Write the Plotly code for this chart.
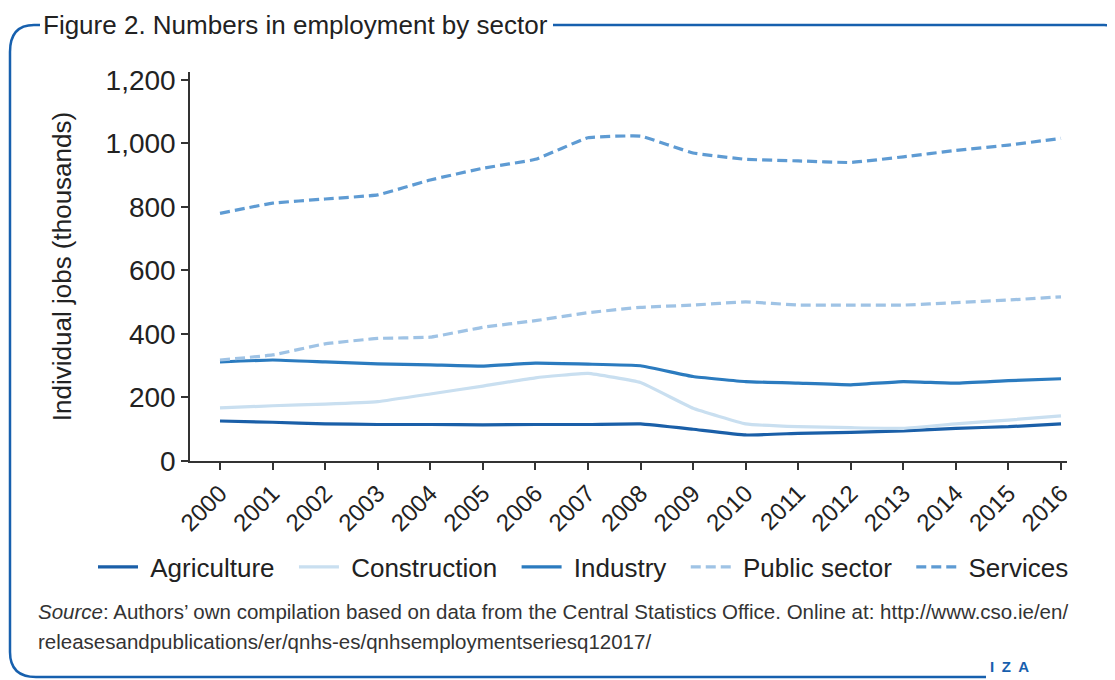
import plotly.graph_objects as go

years = list(range(2000, 2017))
year_labels = [str(y) for y in years]

agriculture = [126, 122, 117, 115, 115, 114, 115, 115, 117, 100, 82, 87, 90, 95, 103, 108, 117]
construction = [167, 174, 179, 187, 211, 236, 262, 276, 247, 166, 117, 108, 105, 103, 117, 129, 142]
industry = [312, 318, 312, 306, 303, 299, 308, 305, 300, 266, 250, 245, 240, 250, 245, 253, 259]
public_sector = [318, 334, 369, 386, 390, 421, 442, 467, 484, 491, 501, 491, 491, 491, 499, 507, 517]
services = [780, 812, 825, 838, 885, 922, 950, 1018, 1023, 970, 950, 945, 940, 958, 978, 995, 1016]

y_ticks = [0, 200, 400, 600, 800, 1000, 1200]
y_tick_labels = ["0", "200", "400", "600", "800", "1,000", "1,200"]

series = [
    ("Agriculture", agriculture, "#1a5fa8", "solid"),
    ("Construction", construction, "#c9dff0", "solid"),
    ("Industry", industry, "#2b7bbf", "solid"),
    ("Public sector", public_sector, "#9fc3e5", "10px,5px"),
    ("Services", services, "#5e9bd3", "10px,5px"),
]

# page body has an 8px margin, so the figure is drawn 8px smaller and offset
OFF = 8
W, H = 1115 - OFF, 680 - OFF
L, R, T, B = 190 - OFF, 48, 72 - OFF, 219
PW, PH = W - L - R, H - T - B
FONT = "Liberation Sans, Arial, sans-serif"
BORDER = "#1760ae"

def px(x):
    return (x - OFF - L) / PW

def py(y):
    return (H - B - (y - OFF)) / PH

def path(cmds):
    out = []
    for c in cmds:
        op, pts = c[0], c[1:]
        coords = " ".join(f"{px(pts[i]):.5f},{py(pts[i+1]):.5f}" for i in range(0, len(pts), 2))
        out.append(f"{op} {coords}")
    return " ".join(out)

NB = "\u00a0"
fig = go.Figure()
for name, vals, color, dash in series:
    fig.add_trace(go.Scatter(
        x=years, y=vals, name=NB + name + NB * 2, mode="lines",
        line=dict(color=color, width=3.2, dash=dash, shape="spline", smoothing=0.3),
    ))

shapes = [
    dict(type="path", xref="paper", yref="paper",
         path=path([("M", 40, 25), ("L", 34, 25), ("Q", 10, 25, 10, 52), ("L", 10, 652),
                    ("Q", 10, 677, 36, 677), ("L", 986, 677)]),
         line=dict(color=BORDER, width=2.5)),
    dict(type="path", xref="paper", yref="paper",
         path=path([("M", 553, 25), ("L", 1104, 25), ("Q", 1113, 25, 1114, 33)]),
         line=dict(color=BORDER, width=2.5)),
]

annotations = [
    dict(text="Figure 2. Numbers in employment by sector", xref="paper", yref="paper",
         x=px(41), y=py(25), xanchor="left", yanchor="middle", showarrow=False,
         font=dict(family=FONT, size=26, color="#222222")),
    dict(text="<i>Source</i>: Authors’ own compilation based on data from the Central Statistics Office. Online at: http://www.cso.ie/en/",
         xref="paper", yref="paper", x=px(36), y=py(611), xanchor="left", yanchor="middle",
         showarrow=False, font=dict(family=FONT, size=20.5, color="#333333")),
    dict(text="releasesandpublications/er/qnhs-es/qnhsemploymentseriesq12017/",
         xref="paper", yref="paper", x=px(36), y=py(641), xanchor="left", yanchor="middle",
         showarrow=False, font=dict(family=FONT, size=20.5, color="#333333")),
    dict(text="<b>I\u2002Z\u2002A</b>", xref="paper", yref="paper", x=px(1009), y=py(666),
         xanchor="center", yanchor="middle", showarrow=False,
         font=dict(family=FONT, size=15, color=BORDER)),
    dict(text="World of Labor", xref="paper", yref="paper", x=px(990), y=py(684),
         xanchor="left", yanchor="middle", showarrow=False,
         font=dict(family=FONT, size=13, color=BORDER)),
]

fig.update_layout(
    width=W, height=H,
    margin=dict(l=L, r=R, t=T, b=B, pad=0),
    paper_bgcolor="white", plot_bgcolor="white",
    font=dict(family=FONT, color="#222222"),
    showlegend=True,
    legend=dict(orientation="h", x=px(93), y=py(567), xanchor="left", yanchor="middle",
                font=dict(family=FONT, size=26, color="#222222"), itemwidth=40,
                traceorder="normal"),
    shapes=shapes,
    annotations=annotations,
)

fig.update_xaxes(
    range=[2000 - 30 / 52.56, 2016 + 6 / 52.56],
    tickmode="array", tickvals=years, ticktext=year_labels, tickangle=-45,
    tickfont=dict(family=FONT, size=24, color="#222222"),
    showline=True, linecolor="#333333", linewidth=1.5,
    ticks="outside", ticklen=7, tickcolor="#333333", tickwidth=1.5,
    showgrid=False, zeroline=False,
)
fig.update_yaxes(
    range=[0, 1225],
    tickmode="array", tickvals=y_ticks, ticktext=y_tick_labels,
    tickfont=dict(family=FONT, size=28, color="#222222"),
    title=dict(text="Individual jobs (thousands)", font=dict(family=FONT, size=26, color="#222222"), standoff=26),
    showline=True, linecolor="#333333", linewidth=1.5,
    ticks="outside", ticklen=7, tickcolor="#333333", tickwidth=1.5,
    showgrid=False, zeroline=False,
)

fig.write_html("out.html")
